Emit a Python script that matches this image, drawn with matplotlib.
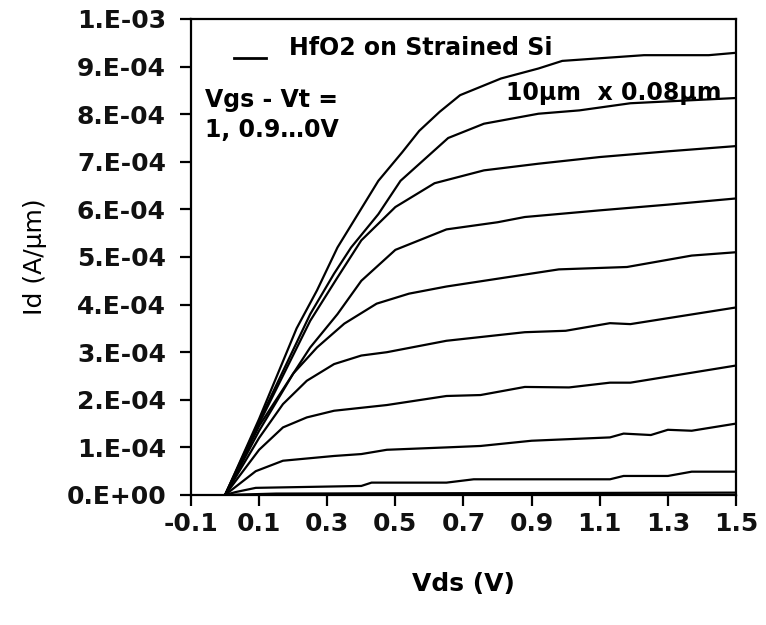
import matplotlib
matplotlib.use("Agg")
import matplotlib.pyplot as plt
import numpy as np

# Id values below are in units of 1e-4 A/um
ID_UNIT = 1e-4

# Vgs - Vt = 1.0 V
vds_10 = [0, 0.10, 0.21, 0.27, 0.33, 0.39, 0.45, 0.52, 0.57, 0.63, 0.69, 0.81, 0.92, 0.99, 1.23, 1.42, 1.5]
id_10 = [0, 1.6, 3.5, 4.3, 5.2, 5.9, 6.6, 7.2, 7.65, 8.05, 8.4, 8.75, 8.96, 9.12, 9.24, 9.24, 9.29]
# 0.9 V
vds_09 = [0, 0.10, 0.25, 0.32, 0.37, 0.45, 0.515, 0.655, 0.76, 0.92, 1.04, 1.19, 1.5]
id_09 = [0, 1.55, 3.8, 4.65, 5.2, 5.9, 6.6, 7.5, 7.8, 8.01, 8.08, 8.23, 8.34]
# 0.8 V
vds_08 = [0, 0.10, 0.25, 0.33, 0.40, 0.50, 0.615, 0.76, 0.92, 1.10, 1.3, 1.5]
id_08 = [0, 1.5, 3.66, 4.57, 5.35, 6.05, 6.55, 6.82, 6.96, 7.1, 7.22, 7.33]
# 0.7 V
vds_07 = [0, 0.10, 0.25, 0.33, 0.40, 0.50, 0.65, 0.80, 0.88, 1.10, 1.3, 1.5]
id_07 = [0, 1.45, 3.1, 3.8, 4.5, 5.15, 5.58, 5.73, 5.84, 5.98, 6.1, 6.23]
# 0.6 V
vds_06 = [0, 0.10, 0.20, 0.27, 0.35, 0.445, 0.54, 0.65, 0.98, 1.18, 1.37, 1.5]
id_06 = [0, 1.35, 2.55, 3.1, 3.6, 4.02, 4.23, 4.38, 4.74, 4.79, 5.03, 5.1]
# 0.5 V
vds_05 = [0, 0.10, 0.17, 0.24, 0.32, 0.40, 0.475, 0.65, 0.88, 1.0, 1.13, 1.19, 1.5]
id_05 = [0, 1.2, 1.91, 2.4, 2.75, 2.93, 3.0, 3.24, 3.42, 3.45, 3.61, 3.59, 3.94]
# 0.4 V
vds_04 = [0, 0.10, 0.17, 0.24, 0.32, 0.475, 0.65, 0.75, 0.88, 1.01, 1.13, 1.19, 1.5]
id_04 = [0, 0.95, 1.42, 1.63, 1.77, 1.89, 2.08, 2.1, 2.27, 2.26, 2.36, 2.36, 2.72]
# 0.3 V
vds_03 = [0, 0.09, 0.17, 0.32, 0.40, 0.475, 0.65, 0.75, 0.90, 1.13, 1.17, 1.25, 1.30, 1.37, 1.5]
id_03 = [0, 0.5, 0.72, 0.82, 0.86, 0.95, 1.0, 1.03, 1.14, 1.21, 1.29, 1.26, 1.37, 1.35, 1.50]
# 0.2 V
vds_02 = [0, 0.03, 0.09, 0.40, 0.43, 0.65, 0.73, 1.13, 1.17, 1.30, 1.37, 1.5]
id_02 = [0, 0.06, 0.15, 0.19, 0.26, 0.26, 0.33, 0.33, 0.40, 0.40, 0.49, 0.49]
# 0.1 V
vds_01 = [0, 0.15, 1.5]
id_01 = [0, 0.03, 0.05]
# 0 V
vds_00 = [0, 1.5]
id_00 = [0, 0.0]

x_ticks = [-0.1, 0.1, 0.3, 0.5, 0.7, 0.9, 1.1, 1.3, 1.5]
x_labels = ["-0.1", "0.1", "0.3", "0.5", "0.7", "0.9", "1.1", "1.3", "1.5"]
y_ticks = [0, 1e-4, 2e-4, 3e-4, 4e-4, 5e-4, 6e-4, 7e-4, 8e-4, 9e-4, 1e-3]
y_labels = ["0.E+00", "1.E-04", "2.E-04", "3.E-04", "4.E-04", "5.E-04",
            "6.E-04", "7.E-04", "8.E-04", "9.E-04", "1.E-03"]


def main():
    plt.rcParams['font.family'] = ['DejaVu Sans']

    fig = plt.figure(figsize=(7.66, 6.25), dpi=100)
    ax = fig.add_axes([191 / 766, 130 / 625, 545 / 766, 476 / 625])

    curves = [(vds_10, id_10), (vds_09, id_09), (vds_08, id_08), (vds_07, id_07),
              (vds_06, id_06), (vds_05, id_05), (vds_04, id_04), (vds_03, id_03),
              (vds_02, id_02), (vds_01, id_01), (vds_00, id_00)]
    for v, i in curves:
        ax.plot(v, np.array(i) * ID_UNIT, color="black", lw=1.6)

    ax.set_xlim(-0.1, 1.5)
    ax.set_ylim(0, 1e-3)
    ax.set_xticks(x_ticks)
    ax.set_xticklabels(x_labels)
    ax.set_yticks(y_ticks)
    ax.set_yticklabels(y_labels)

    for s in ax.spines.values():
        s.set_linewidth(1.6)
    ax.tick_params(axis="y", direction="out", length=8, width=1.6, pad=10,
                   labelsize=18)
    ax.tick_params(axis="x", direction="out", length=8, width=1.6, pad=4,
                   labelsize=18)
    for lab in ax.get_xticklabels() + ax.get_yticklabels():
        lab.set_fontweight("bold")
        lab.set_color("#111111")

    ax.set_xlabel("Vds (V)", fontsize=18, fontweight="bold", labelpad=26)
    ax.set_ylabel("Id (A/\u03bcm)", fontsize=18, labelpad=14)

    # legend-like dash and notes
    ax.plot([0.025, 0.12], [9.18e-4, 9.18e-4], color="black", lw=2)
    ax.text(0.188, 9.24e-4, "HfO2 on Strained Si", fontsize=17,
            fontweight="bold", va="baseline")
    ax.text(-0.058, 8.15e-4, "Vgs - Vt =", fontsize=17, fontweight="bold",
            va="baseline")
    ax.text(-0.058, 7.52e-4, "1, 0.9\u20260V", fontsize=17, fontweight="bold",
            va="baseline")
    ax.text(0.825, 8.29e-4, "10\u03bcm  x 0.08\u03bcm", fontsize=17,
            fontweight="bold", va="baseline")

    fig.savefig("out.png", dpi=100)


if __name__ == "__main__":
    main()
